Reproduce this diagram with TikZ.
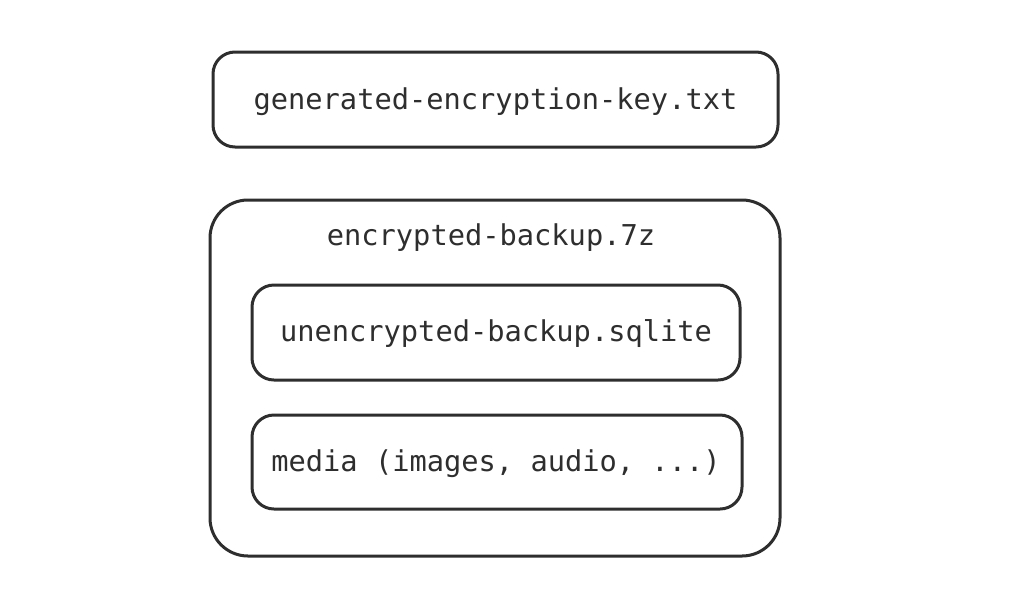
\documentclass[tikz,border=0pt]{standalone}
\usepackage{fontspec}
\setmonofont{DejaVu Sans Mono}
\definecolor{ink}{HTML}{2E2E2E}
\begin{document}
\begin{tikzpicture}[x=1pt,y=-1pt,
  sbox/.style={draw=ink,line width=3pt,rounded corners=22pt},
  bigbox/.style={draw=ink,line width=3pt,rounded corners=38pt},
  lbl/.style={text=ink,font=\ttfamily\fontsize{28.7}{32}\selectfont,inner sep=0pt}]
\useasboundingbox[fill=white] (0,0) rectangle (1024,614);
\draw[sbox] (213,52) rectangle (778,147);
\node[lbl] (key) at (495.5,102) {generated-encryption-key.txt};
\draw[bigbox] (210,200) rectangle (780,556);
\node[lbl] (arch) at (491,238) {encrypted-backup.7z};
\draw[sbox] (252,285) rectangle (740,380);
\node[lbl] (db) at (496,334) {unencrypted-backup.sqlite};
\draw[sbox] (252,415) rectangle (742,509);
\node[lbl] (media) at (496,464) {media (images, audio, ...)};
\end{tikzpicture}
\end{document}
